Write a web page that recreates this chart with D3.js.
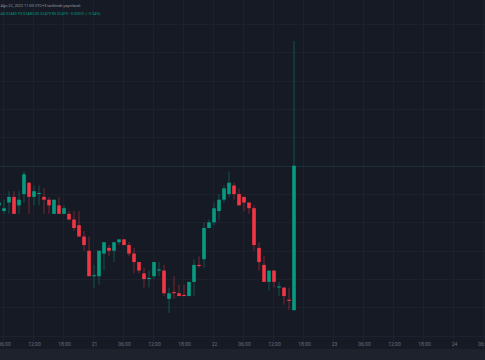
<!DOCTYPE html>
<html><head><meta charset="utf-8">
<script src="https://cdn.jsdelivr.net/npm/d3@7"></script>
<style>html,body{margin:0;padding:0;background:#161a25;overflow:hidden}</style>
</head><body>
<svg id="c" width="485" height="360"></svg>
<script>
// ---- data (hourly candles, first one partly off-screen) ----
const firstCandle = new Date(2022, 7, 21, 5, 0);
const opens  = [0.02486,0.02484,0.02487,0.02489,0.02486,0.02490,0.02494,0.02489,0.02490,0.02489,0.02488,0.02483,0.02486,0.02483,0.02483,0.02481,0.02479,0.02475,0.02470,0.02461,0.02461,0.02469,0.02471,0.02470,0.02473,0.02474,0.02472,0.02469,0.02466,0.02462,0.02460,0.02461,0.02463,0.02463,0.02453,0.024554,0.02455,0.024544,0.02454,0.02459,0.02465,0.02467,0.02478,0.02480,0.02484,0.02488,0.02490,0.02493,0.02490,0.02489,0.02487,0.02485,0.02471,0.02465,0.02459,0.02463,0.02457,0.02457,0.024527,0.02449];
const highs  = [0.02488,0.02488,0.02491,0.02491,0.02491,0.02498,0.02494,0.02493,0.02493,0.02492,0.02489,0.02488,0.02489,0.02486,0.02484,0.02484,0.02484,0.02477,0.02475,0.02465,0.02470,0.02473,0.02472,0.02473,0.02474,0.02474,0.02473,0.02471,0.02466,0.02464,0.02463,0.02466,0.02466,0.02465,0.02457,0.02461,0.02458,0.02458,0.02459,0.02467,0.02468,0.02480,0.02481,0.02487,0.02490,0.02493,0.02498,0.02494,0.02492,0.02489,0.02487,0.02486,0.02473,0.02468,0.02463,0.02463,0.02459,0.02457,0.02457,0.02544];
const lows   = [0.02485,0.02483,0.02483,0.02483,0.02483,0.02487,0.02483,0.02486,0.02486,0.02483,0.02483,0.02483,0.02483,0.02483,0.02481,0.02477,0.02475,0.02470,0.02461,0.02457,0.02458,0.02463,0.02468,0.02466,0.02472,0.02472,0.02468,0.02462,0.02462,0.02457,0.02457,0.02460,0.02461,0.02454,0.02448,0.02453,0.02454,0.02454,0.02454,0.02454,0.02464,0.02464,0.02478,0.02479,0.02481,0.02487,0.02489,0.02488,0.02486,0.02484,0.02483,0.02470,0.02463,0.02459,0.02456,0.02457,0.02454,0.02451,0.02449,0.02449];
const closes = [0.02487,0.02485,0.02489,0.02483,0.02488,0.02497,0.02489,0.02491,0.024904,0.02488,0.02486,0.02488,0.02483,0.02485,0.02481,0.02478,0.02475,0.02472,0.02461,0.024614,0.02470,0.02473,0.02470,0.02473,0.02474,0.02472,0.02469,0.02466,0.02463,0.02460,0.024604,0.02466,0.024634,0.02455,0.02455,0.02455,0.02454,0.02454,0.02459,0.02465,0.024646,0.02478,0.02480,0.02485,0.02488,0.02492,0.02494,0.02490,0.02486,0.02487,0.02485,0.02472,0.02466,0.02459,0.02463,0.02459,0.024574,0.02454,0.024523,0.02500];
const timeTickLabels = ["06:00","12:00","18:00","21","06:00","12:00","18:00","22","06:00","12:00","18:00","23","06:00","12:00","18:00","24","06:00"];
const priceGrid = [0.0244,0.0245,0.0246,0.0247,0.0248,0.0249,0.0250,0.0251,0.0252,0.0253,0.0254,0.0255];
const titleText = "Ağu 22, 2022 11:00 UTC+3 tarihinde yayınlandı";
const legendText = "A0.02480  Y0.02480  D0.02479  K0.02479  −0.00001 (−0.04%)";

// ---- drawing ----
const W = 485, H = 360;
const svg = d3.select("#c");
const UP = "#089981", DOWN = "#f23645";

svg.append("rect").attr("width", W).attr("height", H).attr("fill", "#161a25");
svg.append("rect").attr("x", 0).attr("y", 349).attr("width", W).attr("height", 11).attr("fill", "#1e222d");

const candles = opens.map((o, i) => ({
  t: d3.timeHour.offset(firstCandle, i), o, h: highs[i], l: lows[i], c: closes[i]
}));

const x = d3.scaleTime()
  .domain([new Date(2022, 7, 21, 6), new Date(2022, 7, 25, 6)])
  .range([4, 484]);
const y = d3.scaleLinear().domain([0.0245, 0.0250]).range([307.4, 165.7]);

const tickTimes = d3.timeHour.every(6).range(new Date(2022, 7, 21, 6), new Date(2022, 7, 25, 7));

// grid
const grid = svg.append("g").attr("stroke", "#1d212d").attr("stroke-width", 1).attr("shape-rendering", "crispEdges");
grid.selectAll("line.v").data(tickTimes).join("line").attr("class", "v")
  .attr("x1", d => Math.round(x(d)) - 0.5).attr("x2", d => Math.round(x(d)) - 0.5)
  .attr("y1", 0).attr("y2", 349);
grid.selectAll("line.h").data(priceGrid).join("line").attr("class", "h")
  .attr("x1", 0).attr("x2", W)
  .attr("y1", d => Math.round(y(d)) + 0.5).attr("y2", d => Math.round(y(d)) + 0.5);

// last price line
const lastClose = closes[closes.length - 1];
svg.append("line").attr("x1", 0).attr("x2", W)
  .attr("y1", Math.round(y(lastClose)) + 0.5).attr("y2", Math.round(y(lastClose)) + 0.5)
  .attr("stroke", UP).attr("stroke-opacity", 0.12).attr("shape-rendering", "crispEdges");

// candles
const bw = 3.6;
const cg = svg.append("g");
const col = d => d.c >= d.o ? UP : DOWN;
cg.selectAll("line.w").data(candles).join("line").attr("class", "w")
  .attr("x1", d => x(d.t)).attr("x2", d => x(d.t))
  .attr("y1", d => y(d.h)).attr("y2", d => y(d.l))
  .attr("stroke", col).attr("stroke-width", 1).attr("stroke-opacity", 0.45);
cg.selectAll("rect.b").data(candles).join("rect").attr("class", "b")
  .attr("x", d => x(d.t) - bw / 2).attr("width", bw)
  .attr("y", d => y(Math.max(d.o, d.c)))
  .attr("height", d => Math.max(1, Math.abs(y(d.o) - y(d.c))))
  .attr("fill", col);

// time axis
const axis = d3.axisBottom(x).tickValues(tickTimes)
  .tickFormat((d, i) => timeTickLabels[i]).tickSize(0).tickPadding(0);
const ax = svg.append("g").attr("transform", "translate(0,342)").call(axis);
ax.select(".domain").remove();
ax.selectAll("text").attr("fill", "#6b6f7b").attr("font-size", 5)
  .attr("font-family", "Roboto, 'DejaVu Sans', sans-serif").attr("dy", "0.35em").attr("y", 2.5);

// header texts
svg.append("text").attr("x", 0.5).attr("y", 6.5).text(titleText)
  .attr("font-size", 3.8).attr("font-family", "Roboto, 'DejaVu Sans', sans-serif")
  .attr("fill", "#9598a1").attr("textLength", 80).attr("lengthAdjust", "spacingAndGlyphs");
svg.append("text").attr("x", 0.5).attr("y", 15).text(legendText)
  .attr("font-size", 3.8).attr("font-family", "Roboto, 'DejaVu Sans', sans-serif")
  .attr("fill", UP).attr("textLength", 100).attr("lengthAdjust", "spacingAndGlyphs");
</script>
</body></html>
